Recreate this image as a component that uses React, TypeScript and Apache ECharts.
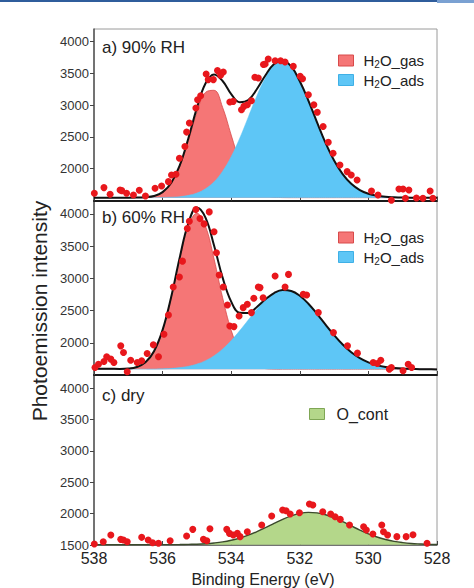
import React, { useEffect, useRef } from "react";
import * as echarts from "echarts";

// Binding energy grid (eV) on which the fitted curves are read
const ENERGY = [
  538.0, 537.75, 537.5, 537.25, 537.0, 536.75, 536.5, 536.25, 536.0, 535.75,
  535.5, 535.25, 535.0, 534.75, 534.5, 534.25, 534.0, 533.75, 533.5, 533.25,
  533.0, 532.75, 532.5, 532.25, 532.0, 531.75, 531.5, 531.25, 531.0, 530.75,
  530.5, 530.25, 530.0, 529.75, 529.5, 529.25, 529.0, 528.75, 528.5, 528.25, 528.0,
];

// a) 90% RH
const A_BASE = 1545;
const A_GAS = [
  1545, 1545, 1545, 1545, 1545, 1546, 1552, 1571, 1629, 1769,
  2036, 2440, 2885, 3202, 3235, 2965, 2530, 2109, 1811, 1649,
  1579, 1554, 1546, 1545, 1545, 1545, 1545, 1545, 1545, 1545,
  1545, 1545, 1545, 1545, 1545, 1545, 1545, 1545, 1545, 1545, 1545,
];
const A_ADS = [
  1545, 1545, 1545, 1545, 1545, 1545, 1545, 1545, 1548, 1552,
  1561, 1581, 1618, 1685, 1794, 1961, 2191, 2483, 2816, 3151,
  3438, 3640, 3700, 3610, 3377, 3073, 2734, 2408, 2130, 1915,
  1763, 1665, 1607, 1575, 1558, 1551, 1547, 1545, 1545, 1545, 1545,
];
const A_FIT = [
  1545, 1545, 1545, 1545, 1545, 1546, 1552, 1571, 1632, 1776,
  2052, 2476, 2958, 3342, 3484, 3381, 3176, 3047, 3082, 3255,
  3472, 3649, 3701, 3610, 3377, 3073, 2734, 2408, 2130, 1915,
  1763, 1665, 1607, 1575, 1558, 1551, 1547, 1545, 1545, 1545, 1545,
];
const A_DOT_E = [
  537.99, 537.71, 537.53, 537.24, 537.19, 537.05, 536.85, 536.68, 536.5, 536.22,
  536.03, 535.83, 535.74, 535.61, 535.51, 535.35, 535.3, 535.22, 535.03, 534.98,
  534.89, 534.73, 534.67, 534.52, 534.4, 534.31, 534.23, 534.04, 533.94, 533.7,
  533.63, 533.53, 533.41, 533.31, 533.21, 533.06, 533.01, 532.92, 532.72, 532.56,
  532.43, 532.19, 531.99, 531.92, 531.75, 531.59, 531.49, 531.32, 531.17, 531.03,
  530.83, 530.62, 530.5, 530.33, 529.91, 529.72, 529.33, 529.11, 528.99, 528.92,
  528.82, 528.6, 528.41, 528.2, 528.12,
];
const A_DOT_I = [
  1613, 1703, 1598, 1666, 1655, 1613, 1587, 1660, 1571, 1692,
  1729, 1797, 1902, 1913, 2166, 2350, 2577, 2719, 2955, 3087,
  3150, 3492, 3403, 3403, 3545, 3471, 3524, 3050, 3061, 2929,
  2982, 3008, 3071, 3439, 3429, 3640, 3648, 3727, 3700, 3700,
  3680, 3612, 3455, 3418, 3164, 3006, 2890, 2664, 2417, 2243,
  2060, 1955, 1902, 1823, 1650, 1587, 1505, 1681, 1681, 1534,
  1665, 1540, 1534, 1650, 1534,
];

// b) 60% RH
const B_BASE = 1590;
const B_GAS = [
  1590, 1590, 1590, 1590, 1599, 1624, 1696, 1866, 2194, 2698,
  3300, 3809, 4010, 3809, 3300, 2698, 2194, 1866, 1696, 1624,
  1599, 1592, 1590, 1590, 1590, 1590, 1590, 1590, 1590, 1590,
  1590, 1590, 1590, 1590, 1590, 1590, 1590, 1590, 1590, 1590, 1590,
];
const B_ADS = [
  1590, 1590, 1590, 1590, 1590, 1590, 1591, 1593, 1596, 1603,
  1615, 1636, 1670, 1723, 1799, 1903, 2034, 2189, 2356, 2522,
  2665, 2769, 2818, 2804, 2729, 2606, 2450, 2282, 2118, 1973,
  1854, 1763, 1697, 1653, 1625, 1609, 1599, 1594, 1592, 1590, 1590,
];
const B_FIT = [
  1600, 1598, 1596, 1594, 1599, 1624, 1697, 1869, 2200, 2711,
  3325, 3855, 4100, 3942, 3509, 3011, 2638, 2465, 2462, 2556,
  2674, 2771, 2818, 2804, 2729, 2606, 2450, 2282, 2118, 1973,
  1854, 1763, 1697, 1653, 1625, 1609, 1599, 1594, 1590, 1588, 1586,
];
const B_DOT_E = [
  537.97, 537.87, 537.71, 537.63, 537.51, 537.42, 537.22, 537.14, 537.03, 536.93,
  536.74, 536.61, 536.45, 536.27, 536.12, 535.96, 535.83, 535.69, 535.51, 535.42,
  535.28, 535.22, 535.03, 534.91, 534.79, 534.64, 534.5, 534.43, 534.35, 534.23,
  534.11, 534.04, 533.92, 533.77, 533.65, 533.53, 533.41, 533.34, 533.21, 533.16,
  533.07, 532.72, 532.43, 532.33, 531.9, 531.8, 531.46, 531.02, 530.61, 530.32,
  529.86, 529.74, 529.64, 529.39, 529.33, 528.99, 528.84, 528.74,
];
const B_DOT_I = [
  1616, 1668, 1710, 1782, 1746, 1694, 1952, 1849, 1550, 1730,
  1694, 1720, 1834, 1968, 1782, 2132, 2432, 2865, 3020, 3267,
  3773, 3886, 4067, 3927, 3845, 4031, 3722, 3397, 3051, 2865,
  2586, 2261, 2251, 2416, 2545, 2597, 2468, 2690, 2865, 2856,
  2700, 3035, 2865, 3061, 2752, 2741, 2468, 2158, 1952, 1839,
  1694, 1679, 1730, 1591, 1616, 1565, 1668, 1616,
];

// c) dry
const C_BASE = 1505;
const C_CONT = [
  1505, 1505, 1505, 1505, 1505, 1505, 1505, 1505, 1506, 1506,
  1507, 1510, 1513, 1520, 1532, 1549, 1575, 1610, 1656, 1713,
  1777, 1844, 1909, 1964, 2003, 2019, 2012, 1982, 1933, 1871,
  1804, 1738, 1678, 1627, 1588, 1558, 1538, 1524, 1516, 1510, 1508,
];
const C_DOT_E = [
  537.99, 537.73, 537.51, 537.22, 537.14, 537.03, 536.61, 536.42, 536.29, 536.12,
  535.78, 535.3, 535.12, 534.81, 534.71, 534.62, 534.13, 534.05, 533.94, 533.82,
  533.74, 533.53, 533.11, 532.82, 532.5, 532.4, 532.28, 532.01, 531.72, 531.62,
  531.33, 531.1, 530.97, 530.82, 530.55, 530.14, 530.06, 529.87, 529.61, 529.56,
  529.44, 529.17, 528.9, 528.7, 528.29,
];
const C_DOT_I = [
  1516, 1553, 1659, 1590, 1580, 1553, 1622, 1580, 1537, 1527,
  1569, 1643, 1749, 1590, 1569, 1760, 1749, 1685, 1659, 1685,
  1633, 1712, 1818, 1961, 2057, 2046, 1993, 2014, 2152, 2136,
  2030, 1993, 1950, 1908, 1818, 1791, 1738, 1675, 1818, 1712,
  1659, 1633, 1633, 1664, 1527,
];

const X_MIN = 528;
const X_MAX = 538;
const Y_MIN = 1500;
const Y_MAX = 4200;
const Y_TICKS_TOP = [2000, 2500, 3000, 3500, 4000];
const Y_TICKS_BOTTOM = [1500, 2000, 2500, 3000, 3500, 4000];

const FONT = '"Liberation Sans", Arial, Helvetica, sans-serif';
const RED = "#f57676";
const RED_EDGE = "#d84a4a";
const BLUE = "#5ec6f6";
const GREEN = "#b4d78a";
const GREEN_EDGE = "#7fa655";
const DOT = "#e8171c";

const LEGEND_TEXT: Record<string, string> = {
  gas_a: "{n|H}{s|2}{n|O_gas}",
  ads_a: "{n|H}{s|2}{n|O_ads}",
  gas_b: "{n|H}{s|2}{n|O_gas}",
  ads_b: "{n|H}{s|2}{n|O_ads}",
  cont_c: "{n|O_cont}",
};

function pairs(xs: number[], ys: number[]) {
  return xs.map((x, i) => [x, ys[i]]);
}

export default function App() {
  const ref = useRef<HTMLDivElement>(null);

  useEffect(() => {
    const chart = echarts.init(ref.current!, null, { renderer: "svg" });

    const grids = [
      { left: 94, width: 343, top: 29, height: 171.5 },
      { left: 94, width: 343, top: 201, height: 174 },
      { left: 94, width: 343, top: 375.5, height: 169.5 },
    ];

    const xAxes = grids.map((_, i) => ({
      type: "value",
      gridIndex: i,
      min: X_MIN,
      max: X_MAX,
      interval: 2,
      inverse: true,
      axisLine: {
        show: true,
        lineStyle: { color: i < 2 ? "#1a1a1a" : "#555", width: i < 2 ? 2 : 1.5 },
      },
      axisTick: { show: true, inside: true, length: 4, lineStyle: { color: "#444", width: 1 } },
      axisLabel: {
        show: i === 2,
        fontSize: 16,
        color: "#222",
        fontFamily: FONT,
        margin: 5,
      },
      splitLine: { show: false },
    }));

    const yAxes = grids.map((_, i) => {
      const ticks = i === 2 ? Y_TICKS_BOTTOM : Y_TICKS_TOP;
      return {
        type: "value",
        gridIndex: i,
        min: Y_MIN,
        max: Y_MAX,
        interval: 500,
        axisLine: { show: true, lineStyle: { color: "#555", width: 1.5 } },
        axisTick: {
          show: true,
          inside: false,
          length: 4,
          customValues: ticks,
          lineStyle: { color: "#444", width: 1 },
        },
        axisLabel: {
          show: true,
          fontSize: 13,
          color: "#333",
          fontFamily: FONT,
          margin: 5,
          customValues: ticks,
          formatter: (v: number) => String(v),
        },
        splitLine: { show: false },
      };
    });

    const areaSeries = (
      name: string,
      idx: number,
      data: number[],
      color: string,
      edge: string,
      base: number,
      z: number,
      edgeWidth: number
    ) => ({
      name,
      type: "line",
      xAxisIndex: idx,
      yAxisIndex: idx,
      data: pairs(ENERGY, data),
      smooth: 0.4,
      symbol: "none",
      z,
      itemStyle: { color, borderColor: edge, borderWidth: 1 },
      lineStyle: { color: edge, width: edgeWidth },
      areaStyle: { color, opacity: 1, origin: base },
    });

    const fitSeries = (name: string, idx: number, data: number[]) => ({
      name,
      type: "line",
      xAxisIndex: idx,
      yAxisIndex: idx,
      data: pairs(ENERGY, data),
      smooth: 0.4,
      symbol: "none",
      z: 6,
      lineStyle: { color: "#111", width: 2 },
    });

    const dotSeries = (name: string, idx: number, xs: number[], ys: number[]) => ({
      name,
      type: "scatter",
      xAxisIndex: idx,
      yAxisIndex: idx,
      data: pairs(xs, ys),
      symbol: "circle",
      symbolSize: 7,
      z: 8,
      itemStyle: { color: DOT, opacity: 1 },
    });

    const series = [
      areaSeries("gas_a", 0, A_GAS, RED, RED_EDGE, A_BASE, 2, 0.8),
      areaSeries("ads_a", 0, A_ADS, BLUE, BLUE, A_BASE, 3, 0.5),
      fitSeries("fit_a", 0, A_FIT),
      dotSeries("data_a", 0, A_DOT_E, A_DOT_I),
      areaSeries("gas_b", 1, B_GAS, RED, RED_EDGE, B_BASE, 2, 0.8),
      areaSeries("ads_b", 1, B_ADS, BLUE, BLUE, B_BASE, 3, 0.5),
      fitSeries("fit_b", 1, B_FIT),
      dotSeries("data_b", 1, B_DOT_E, B_DOT_I),
      areaSeries("cont_c", 2, C_CONT, GREEN, "#3b4a2c", C_BASE, 3, 1.4),
      dotSeries("data_c", 2, C_DOT_E, C_DOT_I),
    ];

    const legendText = {
      color: "#222",
      fontFamily: FONT,
      padding: [0, 0, 0, 5],
      rich: {
        n: { fontSize: 15, color: "#222", fontFamily: FONT, lineHeight: 18 },
        s: { fontSize: 10, color: "#222", fontFamily: FONT, lineHeight: 7, verticalAlign: "bottom" },
      },
    };

    const mkLegend = (left: number, top: number, items: { name: string; color: string; edge: string }[], big = false) => ({
      left,
      top,
      orient: "vertical",
      icon: "rect",
      itemWidth: 15,
      itemHeight: 11,
      itemGap: 3,
      selectedMode: false,
      formatter: (name: string) => LEGEND_TEXT[name] || name,
      textStyle: big
        ? { ...legendText, padding: [0, 0, 0, 7], rich: { n: { fontSize: 16, color: "#222", fontFamily: FONT, lineHeight: 18 } } }
        : legendText,
      data: items.map((it) => ({
        name: it.name,
        icon: "rect",
        itemStyle: { color: it.color, borderColor: it.edge, borderWidth: 1 },
      })),
    });

    const legends = [
      mkLegend(333, 48, [
        { name: "gas_a", color: RED, edge: RED_EDGE },
        { name: "ads_a", color: BLUE, edge: "#3fb0e6" },
      ]),
      mkLegend(333, 225, [
        { name: "gas_b", color: RED, edge: RED_EDGE },
        { name: "ads_b", color: BLUE, edge: "#3fb0e6" },
      ]),
      mkLegend(304, 401, [{ name: "cont_c", color: GREEN, edge: GREEN_EDGE }], true),
    ];

    const panelLabel = (text: string, y: number) => ({
      type: "text",
      x: 102,
      y,
      z: 20,
      style: {
        text,
        fontSize: 17,
        fontFamily: FONT,
        fill: "#222",
        align: "left",
        verticalAlign: "middle",
      },
    });

    const option = {
      animation: false,
      backgroundColor: "#ffffff",
      grid: grids.map((g) => ({ ...g, show: true, borderColor: "#9a9a9a", borderWidth: 1, backgroundColor: "transparent" })),
      xAxis: xAxes,
      yAxis: yAxes,
      legend: legends,
      series,
      graphic: [
        { type: "rect", shape: { x: 0, y: 0, width: 437, height: 2 }, style: { fill: "#2f5d9c" } },
        { type: "rect", shape: { x: 437, y: 0, width: 37, height: 3 }, style: { fill: "#7aa1d2" } },
        panelLabel("a) 90% RH", 47),
        panelLabel("b) 60% RH", 217),
        panelLabel("c) dry", 395),
        {
          type: "text",
          x: 39,
          y: 311,
          rotation: Math.PI / 2,
          style: {
            text: "Photoemission intensity",
            fontSize: 21,
            fontFamily: FONT,
            fill: "#222",
            align: "center",
            verticalAlign: "middle",
          },
        },
        {
          type: "text",
          x: 263,
          y: 579,
          style: {
            text: "Binding Energy (eV)",
            fontSize: 16,
            fontFamily: FONT,
            fill: "#222",
            align: "center",
            verticalAlign: "middle",
          },
        },
      ],
    };

    chart.setOption(option as any);
    return () => chart.dispose();
  }, []);

  return (
    <div
      ref={ref}
      style={{ position: "fixed", left: 0, top: 0, width: 474, height: 588, background: "#fff" }}
    />
  );
}
